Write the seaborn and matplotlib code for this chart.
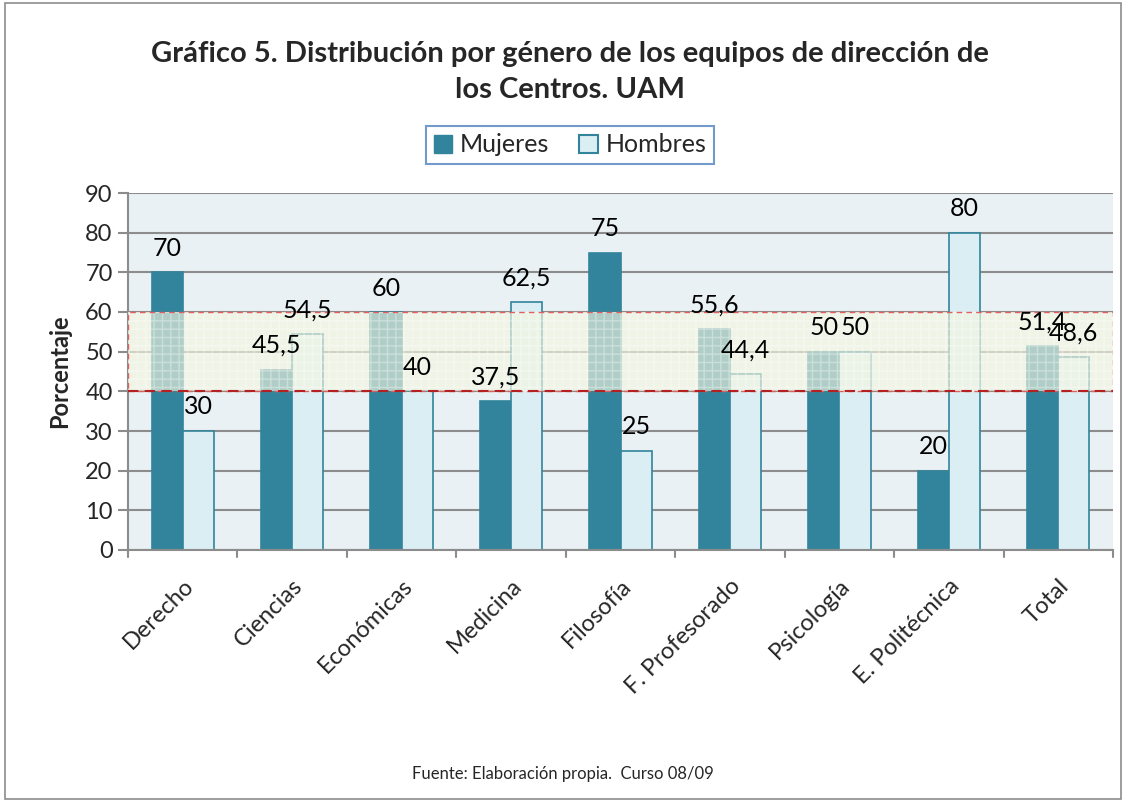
import numpy as np
import pandas as pd
import matplotlib
matplotlib.use("Agg")
import matplotlib.pyplot as plt
import seaborn as sns
from matplotlib.patches import Rectangle

# -----------------------------------------
# Datos
# -----------------------------------------
centros = ["Derecho", "Ciencias", "Económicas", "Medicina", "Filosofía",
           "F. Profesorado", "Psicología", "E. Politécnica", "Total"]
mujeres = [70, 45.5, 60, 37.5, 75, 55.6, 50, 20, 51.4]
hombres = [30, 54.5, 40, 62.5, 25, 44.4, 50, 80, 48.6]
yticks = list(range(0, 100, 10))

df = pd.DataFrame({
    "Centro": centros * 2,
    "Porcentaje": mujeres + hombres,
    "Genero": ["Mujeres"] * len(centros) + ["Hombres"] * len(centros),
})

sns.set_theme(style="white")
plt.rcParams["font.family"] = ["Lato", "DejaVu Sans"]

fig = plt.figure(figsize=(11.26, 8.02), dpi=100)
ax = fig.add_axes([128 / 1126, 1 - 550 / 802, (1113 - 128) / 1126, (550 - 193) / 802])
ax.set_facecolor("#e9f1f5")

sns.barplot(data=df, x="Centro", y="Porcentaje", hue="Genero",
            palette={"Mujeres": "#31849b", "Hombres": "#dbeef4"},
            saturation=1, width=0.57, ax=ax, edgecolor="#31849b",
            linewidth=1.2, legend=False, zorder=2)

# etiquetas de datos
def fmt(v):
    return f"{v:g}".replace(".", ",")

for cont in ax.containers:
    txts = ax.bar_label(cont, labels=[fmt(b.get_height()) for b in cont],
                        padding=9, fontsize=18, color="black")
    for t in txts:
        t.set_zorder(6)

ax.set_ylim(0, 90)
ax.set_yticks(yticks)
ax.set_xlim(-0.5, len(centros) - 0.5)
ax.yaxis.grid(True, color="#8c8c8c", linewidth=1.5, zorder=0)
ax.set_axisbelow(True)

# franja 40-60
ax.axhspan(40, 60, facecolor=(0.96, 0.97, 0.88, 0.65), zorder=3,
           edgecolor="none")
ax.add_patch(Rectangle((-0.5, 40), len(centros), 20, facecolor="none",
                       hatch="++", edgecolor=(1, 1, 1, 0.35), linewidth=0,
                       zorder=3))
ax.add_patch(Rectangle((-0.5, 40), len(centros), 20, facecolor="none",
                       edgecolor="#e06060", linestyle=(0, (4, 3)),
                       linewidth=1.0, zorder=4))
ax.axhline(40, color="#b22222", linestyle=(0, (5, 3)), linewidth=1.5, zorder=4)

for s in ["top", "right"]:
    ax.spines[s].set_visible(False)
ax.spines["left"].set_color("#8c8c8c")
ax.spines["left"].set_linewidth(1.5)
ax.spines["bottom"].set_color("#8c8c8c")
ax.spines["bottom"].set_linewidth(1.5)

ax.tick_params(axis="y", left=True, length=7, width=1.5, color="#8c8c8c",
               labelsize=17, pad=4)
ax.tick_params(axis="x", bottom=False, labelsize=17, pad=12)
ax.set_xticks(np.arange(len(centros)))
ax.set_xticklabels(centros, rotation=45, ha="right", rotation_mode="anchor")
# marcas entre categorias
for xp in np.arange(-0.5, len(centros), 1.0):
    ax.plot([xp, xp], [0, -1.8], color="#8c8c8c", linewidth=1.5,
            clip_on=False, zorder=5)

ax.set_xlabel("")
ax.set_ylabel("Porcentaje", fontsize=17, fontweight="bold", labelpad=10)

fig.text(0.506, 1 - 72 / 802,
         "Gráfico 5. Distribución por género de los equipos de dirección de\nlos Centros. UAM",
         ha="center", va="center", fontsize=21, fontweight="bold",
         linespacing=1.45)

# leyenda
handles = [Rectangle((0, 0), 1, 1, facecolor="#31849b", edgecolor="#31849b"),
           Rectangle((0, 0), 1, 1, facecolor="#dbeef4", edgecolor="#31849b", linewidth=1.5)]
leg = fig.legend(handles, ["Mujeres", "Hombres"], loc="center",
                 bbox_to_anchor=(570 / 1126, 1 - 145 / 802), ncol=2,
                 fontsize=18, frameon=True, fancybox=False,
                 handlelength=0.75, handleheight=0.75, handletextpad=0.3,
                 columnspacing=1.2, borderpad=0.3)
leg.get_frame().set_edgecolor("#4f81bd")
leg.get_frame().set_linewidth(1.5)

fig.text(0.5, 1 - 774 / 802, "Fuente: Elaboración propia.  Curso 08/09",
         ha="center", va="center", fontsize=12)

fig.patches.append(Rectangle((0.004, 0.004), 0.992, 0.992, transform=fig.transFigure,
                             facecolor="none", edgecolor="#8c8c8c", linewidth=1.2))

fig.savefig("out.png", dpi=100)
